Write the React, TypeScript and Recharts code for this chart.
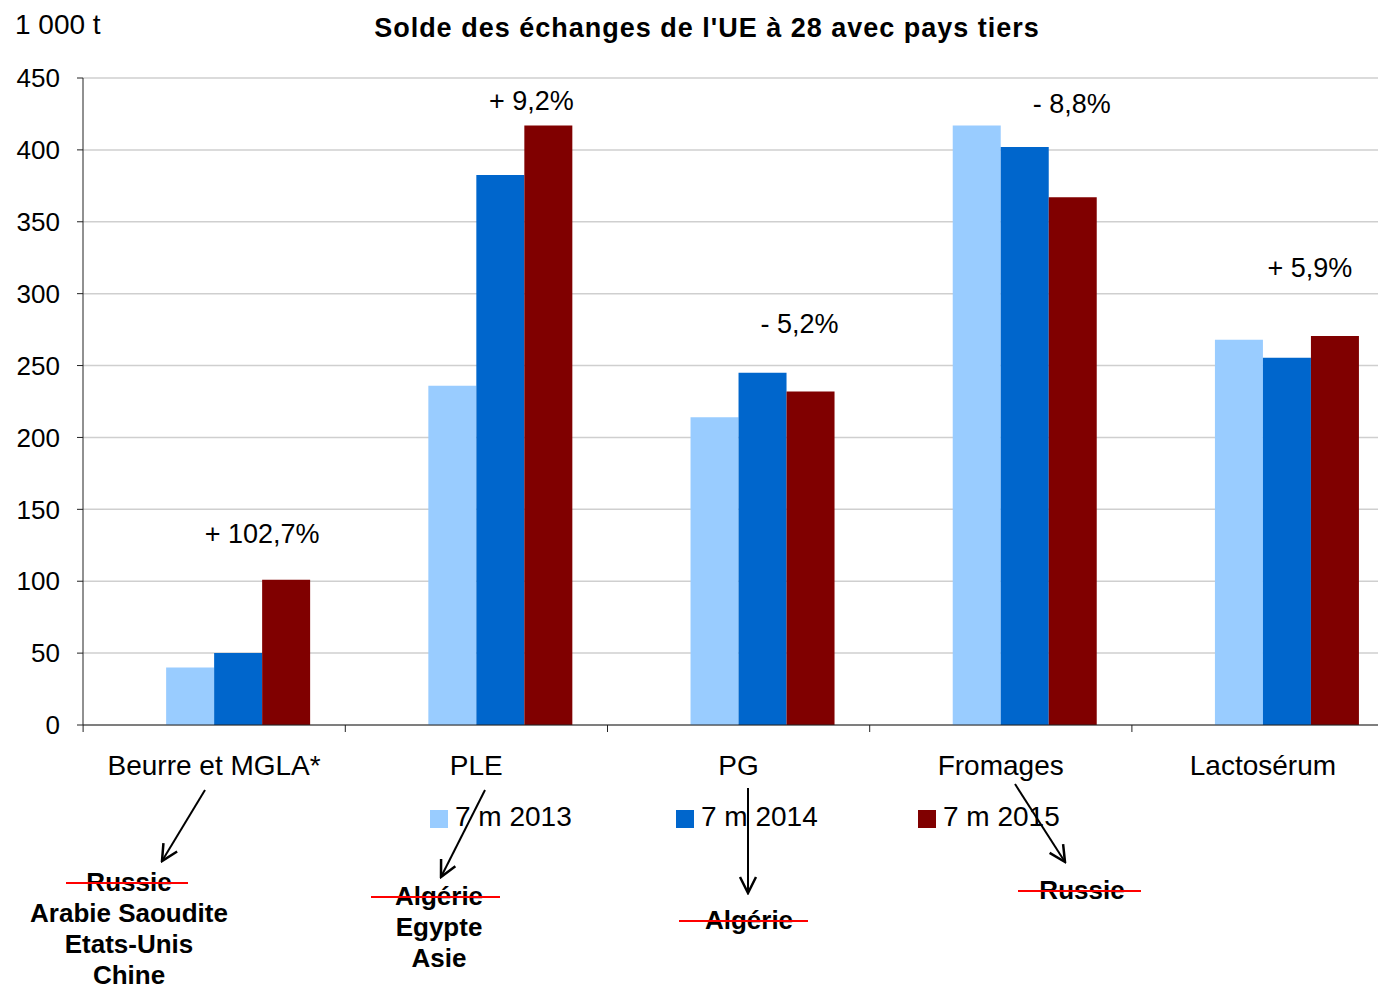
import { ComposedChart, Bar, Line, XAxis, YAxis, CartesianGrid, LabelList } from 'recharts';

const categories = ['Beurre et MGLA*', 'PLE', 'PG', 'Fromages', 'Lactosérum'];
const seriesNames = ['7 m 2013', '7 m 2014', '7 m 2015'];
const seriesColors = ['#99CCFF', '#0066CC', '#800000'];
const values2013 = [40, 236, 214, 417, 268];
const values2014 = [50, 382.5, 245, 402, 255.5];
const values2015 = [101, 417, 232, 367, 270.5];
const evolution = ['+ 102,7%', '+ 9,2%', '- 5,2%', '- 8,8%', '+ 5,9%'];
const evolutionLevel = [133, 434, 279, 432, 318];
const yTicks = [0, 50, 100, 150, 200, 250, 300, 350, 400, 450];

// horizontal nudge of each evolution label from its category centre (layout only)
const evoDx = [48, 55, 61, 71, 47];

const data = categories.map((name, i) => ({
  name,
  spacer: 0,
  v2013: values2013[i],
  v2014: values2014[i],
  v2015: values2015[i],
  level: evolutionLevel[i],
  evo: evolution[i],
}));

const FONT = '"Liberation Sans", Arial, sans-serif';
const BAND = 262;

const CategoryTick = (props: any) => {
  const { x, y, payload } = props;
  return (
    <g>
      <line x1={x - BAND / 2} x2={x - BAND / 2} y1={y - 7} y2={y} stroke="#222" strokeWidth={1} />
      <text x={x} y={y + 43} textAnchor="middle" fontSize={28} fontFamily={FONT} fill="#000">
        {payload.value}
      </text>
    </g>
  );
};

const EvoLabel = (props: any) => {
  const { x, y, value, index } = props;
  return (
    <text x={x + evoDx[index]} y={y + 9} textAnchor="middle" fontSize={27} fontFamily={FONT} fill="#000">
      {value}
    </text>
  );
};

const countryNotes = [
  { x: 129, y: 882, lines: ['Russie', 'Arabie Saoudite', 'Etats-Unis', 'Chine'], strikeStart: 66, strikeEnd: 188 },
  { x: 439, y: 896, lines: ['Algérie', 'Egypte', 'Asie'], strikeStart: 371, strikeEnd: 500 },
  { x: 749, y: 920, lines: ['Algérie'], strikeStart: 679, strikeEnd: 808 },
  { x: 1082, y: 890, lines: ['Russie'], strikeStart: 1018, strikeEnd: 1141 },
];

const arrows = [
  { x1: 205, y1: 790, x2: 162, y2: 861 },
  { x1: 485, y1: 790, x2: 441, y2: 877 },
  { x1: 748, y1: 788, x2: 748, y2: 893 },
  { x1: 1015, y1: 784, x2: 1065, y2: 862 },
];

const legendX = [430, 676, 918];

export default function App() {
  return (
    <div style={{ position: 'absolute', left: 0, top: 0, width: 1378, height: 990, overflow: 'hidden', background: '#fff' }}>
      <ComposedChart
        width={1394}
        height={990}
        data={data}
        margin={{ top: 78, right: 0, left: 0, bottom: 215 }}
        barCategoryGap="13.4%"
        barGap={0}
      >
        <CartesianGrid vertical={false} stroke="#cfcfcf" strokeWidth={1.5} />
        <XAxis
          dataKey="name"
          height={50}
          tickLine={false}
          tickSize={7}
          tickMargin={0}
          stroke="#222"
          tick={<CategoryTick />}
          interval={0}
        />
        <YAxis
          width={83}
          domain={[0, 450]}
          ticks={yTicks}
          tickSize={6}
          tickMargin={17}
          stroke="#222"
          tick={{ fontSize: 26, fontFamily: FONT, fill: '#000' }}
        />
        <Bar dataKey="spacer" fill="none" isAnimationActive={false} />
        <Bar dataKey="v2013" name={seriesNames[0]} fill={seriesColors[0]} isAnimationActive={false} />
        <Bar dataKey="v2014" name={seriesNames[1]} fill={seriesColors[1]} isAnimationActive={false} />
        <Bar dataKey="v2015" name={seriesNames[2]} fill={seriesColors[2]} isAnimationActive={false} />
        <Line dataKey="level" stroke="none" dot={false} activeDot={false} isAnimationActive={false}>
          <LabelList dataKey="evo" content={<EvoLabel />} />
        </Line>
      </ComposedChart>

      <svg width={1378} height={990} style={{ position: 'absolute', left: 0, top: 0 }}>
        <defs>
          <marker id="arrowHead" viewBox="0 0 20 20" refX="18" refY="10" markerWidth="20" markerHeight="20" markerUnits="userSpaceOnUse" orient="auto">
            <path d="M2,2 L18,10 L2,18" fill="none" stroke="#000" strokeWidth={2.5} />
          </marker>
        </defs>
        <text x={15} y={34} fontSize={28} fontFamily={FONT} fill="#000">1 000 t</text>
        <text x={707} y={37} textAnchor="middle" fontSize={27} fontWeight="bold" fontFamily={FONT} fill="#000" letterSpacing={1}>
          Solde des échanges de l'UE à 28 avec pays tiers
        </text>

        {seriesNames.map((s, i) => (
          <g key={s}>
            <rect x={legendX[i]} y={810} width={18} height={18} fill={seriesColors[i]} />
            <text x={legendX[i] + 25} y={826} fontSize={28} fontFamily={FONT} fill="#000">{s}</text>
          </g>
        ))}

        {arrows.map((a, i) => (
          <line key={i} x1={a.x1} y1={a.y1} x2={a.x2} y2={a.y2} stroke="#000" strokeWidth={2} markerEnd="url(#arrowHead)" />
        ))}

        {countryNotes.map((n, i) => (
          <g key={i}>
            {n.lines.map((t, j) => (
              <text key={t} x={n.x} y={n.y + 9 + j * 31} textAnchor="middle" fontSize={26} fontWeight="bold" fontFamily={FONT} fill="#000">
                {t}
              </text>
            ))}
            <line x1={n.strikeStart} x2={n.strikeEnd} y1={n.y + 1} y2={n.y + 1} stroke="#FF0000" strokeWidth={2} />
          </g>
        ))}
      </svg>
    </div>
  );
}
